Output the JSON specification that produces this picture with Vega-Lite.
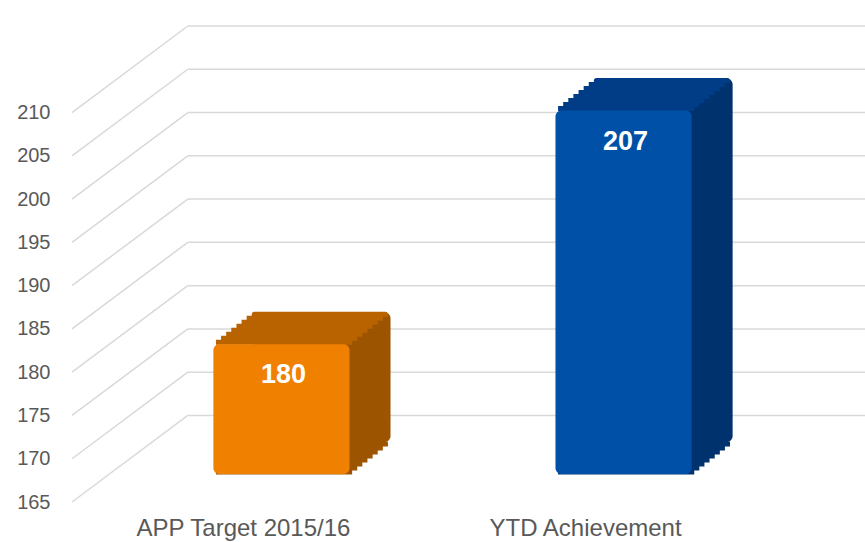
{
  "$schema": "https://vega.github.io/schema/vega-lite/v6.json",
  "width": 793,
  "height": 476,
  "autosize": {"type": "none"},
  "padding": {"left": 72, "top": 26, "right": 0, "bottom": 40},
  "background": "white",
  "config": {
    "view": {"stroke": null},
    "font": "Liberation Sans",
    "axis": {"labelFont": "Liberation Sans", "labelColor": "#595959"}
  },
  "datasets": {
    "bars": [
      {"cat": "APP Target 2015/16", "value": 180},
      {"cat": "YTD Achievement", "value": 207}
    ],
    "grid": [
      {"v": 165, "back": 175},
      {"v": 170, "back": 180},
      {"v": 175, "back": 185},
      {"v": 180, "back": 190},
      {"v": 185, "back": 195},
      {"v": 190, "back": 200},
      {"v": 195, "back": 205},
      {"v": 200, "back": 210},
      {"v": 205, "back": 215},
      {"v": 210, "back": 220}
    ]
  },
  "resolve": {"scale": {"x": "independent"}},
  "layer": [
    {
      "data": {"name": "grid"},
      "mark": {"type": "rule", "color": "#D9D9D9", "strokeWidth": 1.5},
      "encoding": {
        "x": {"datum": 0, "type": "quantitative", "scale": {"domain": [0, 1]}, "axis": null},
        "x2": {"datum": 0.146},
        "y": {"field": "v", "type": "quantitative", "scale": {"domain": [165, 220], "zero": false, "nice": false},
          "axis": {"values": [165, 170, 175, 180, 185, 190, 195, 200, 205, 210], "title": null, "domain": false, "ticks": false, "grid": false, "labelFontSize": 20, "labelPadding": 22}},
        "y2": {"field": "back"}
      }
    },
    {
      "data": {"name": "grid"},
      "mark": {"type": "rule", "color": "#D9D9D9", "strokeWidth": 1.5},
      "encoding": {
        "x": {"datum": 0.146, "type": "quantitative", "scale": {"domain": [0, 1]}, "axis": null},
        "x2": {"datum": 1},
        "y": {"field": "back", "type": "quantitative"}
      }
    },
    {
      "data": {"name": "bars"},
      "layer": [
        {
          "mark": {"type": "bar", "xOffset": 25, "yOffset": -60, "y2Offset": -60, "cornerRadius": 6},
          "encoding": {
            "y": {"field": "value", "type": "quantitative"},
            "y2": {"datum": 165},
            "color": {"condition": {"test": "datum.cat === 'APP Target 2015/16'", "value": "#9C5400"}, "value": "#00326E"}
          }
        },
        {"mark": {"type": "bar", "xOffset": -13.4, "yOffset": -32.5, "y2Offset": -27.5},
          "encoding": {"y": {"datum": 165}, "y2": {"datum": 165}, "color": {"condition": {"test": "datum.cat === 'APP Target 2015/16'", "value": "#9C5400"}, "value": "#00326E"}}},
        {"mark": {"type": "bar", "xOffset": -8.3, "yOffset": -36.5, "y2Offset": -31.5},
          "encoding": {"y": {"datum": 165}, "y2": {"datum": 165}, "color": {"condition": {"test": "datum.cat === 'APP Target 2015/16'", "value": "#9C5400"}, "value": "#00326E"}}},
        {"mark": {"type": "bar", "xOffset": -3.2, "yOffset": -40.5, "y2Offset": -35.5},
          "encoding": {"y": {"datum": 165}, "y2": {"datum": 165}, "color": {"condition": {"test": "datum.cat === 'APP Target 2015/16'", "value": "#9C5400"}, "value": "#00326E"}}},
        {"mark": {"type": "bar", "xOffset": 1.9, "yOffset": -44.5, "y2Offset": -39.5},
          "encoding": {"y": {"datum": 165}, "y2": {"datum": 165}, "color": {"condition": {"test": "datum.cat === 'APP Target 2015/16'", "value": "#9C5400"}, "value": "#00326E"}}},
        {"mark": {"type": "bar", "xOffset": 7.1, "yOffset": -48.5, "y2Offset": -43.5},
          "encoding": {"y": {"datum": 165}, "y2": {"datum": 165}, "color": {"condition": {"test": "datum.cat === 'APP Target 2015/16'", "value": "#9C5400"}, "value": "#00326E"}}},
        {"mark": {"type": "bar", "xOffset": 12.2, "yOffset": -52.5, "y2Offset": -47.5},
          "encoding": {"y": {"datum": 165}, "y2": {"datum": 165}, "color": {"condition": {"test": "datum.cat === 'APP Target 2015/16'", "value": "#9C5400"}, "value": "#00326E"}}},
        {"mark": {"type": "bar", "xOffset": 17.3, "yOffset": -56.5, "y2Offset": -51.5},
          "encoding": {"y": {"datum": 165}, "y2": {"datum": 165}, "color": {"condition": {"test": "datum.cat === 'APP Target 2015/16'", "value": "#9C5400"}, "value": "#00326E"}}},
        {"mark": {"type": "bar", "xOffset": 22.4, "yOffset": -60.5, "y2Offset": -55.5},
          "encoding": {"y": {"datum": 165}, "y2": {"datum": 165}, "color": {"condition": {"test": "datum.cat === 'APP Target 2015/16'", "value": "#9C5400"}, "value": "#00326E"}}},
        {"mark": {"type": "bar", "xOffset": -13.4, "yOffset": -32.5, "y2Offset": -27.5},
          "encoding": {"y": {"field": "value", "type": "quantitative"}, "y2": {"field": "value"}, "color": {"condition": {"test": "datum.cat === 'APP Target 2015/16'", "value": "#B96300"}, "value": "#003D86"}}},
        {"mark": {"type": "bar", "xOffset": -8.3, "yOffset": -36.5, "y2Offset": -31.5},
          "encoding": {"y": {"field": "value", "type": "quantitative"}, "y2": {"field": "value"}, "color": {"condition": {"test": "datum.cat === 'APP Target 2015/16'", "value": "#B96300"}, "value": "#003D86"}}},
        {"mark": {"type": "bar", "xOffset": -3.2, "yOffset": -40.5, "y2Offset": -35.5},
          "encoding": {"y": {"field": "value", "type": "quantitative"}, "y2": {"field": "value"}, "color": {"condition": {"test": "datum.cat === 'APP Target 2015/16'", "value": "#B96300"}, "value": "#003D86"}}},
        {"mark": {"type": "bar", "xOffset": 1.9, "yOffset": -44.5, "y2Offset": -39.5},
          "encoding": {"y": {"field": "value", "type": "quantitative"}, "y2": {"field": "value"}, "color": {"condition": {"test": "datum.cat === 'APP Target 2015/16'", "value": "#B96300"}, "value": "#003D86"}}},
        {"mark": {"type": "bar", "xOffset": 7.1, "yOffset": -48.5, "y2Offset": -43.5},
          "encoding": {"y": {"field": "value", "type": "quantitative"}, "y2": {"field": "value"}, "color": {"condition": {"test": "datum.cat === 'APP Target 2015/16'", "value": "#B96300"}, "value": "#003D86"}}},
        {"mark": {"type": "bar", "xOffset": 12.2, "yOffset": -52.5, "y2Offset": -47.5},
          "encoding": {"y": {"field": "value", "type": "quantitative"}, "y2": {"field": "value"}, "color": {"condition": {"test": "datum.cat === 'APP Target 2015/16'", "value": "#B96300"}, "value": "#003D86"}}},
        {"mark": {"type": "bar", "xOffset": 17.3, "yOffset": -56.5, "y2Offset": -51.5},
          "encoding": {"y": {"field": "value", "type": "quantitative"}, "y2": {"field": "value"}, "color": {"condition": {"test": "datum.cat === 'APP Target 2015/16'", "value": "#B96300"}, "value": "#003D86"}}},
        {"mark": {"type": "bar", "xOffset": 22.4, "yOffset": -60.5, "y2Offset": -55.5, "cornerRadiusTopLeft": 4, "cornerRadiusTopRight": 8},
          "encoding": {"y": {"field": "value", "type": "quantitative"}, "y2": {"field": "value"}, "color": {"condition": {"test": "datum.cat === 'APP Target 2015/16'", "value": "#B96300"}, "value": "#003D86"}}},
        {
          "mark": {"type": "bar", "xOffset": -16, "yOffset": -28, "y2Offset": -28, "cornerRadius": 6},
          "encoding": {
            "y": {"field": "value", "type": "quantitative"},
            "y2": {"datum": 165},
            "color": {"condition": {"test": "datum.cat === 'APP Target 2015/16'", "value": "#F08000"}, "value": "#0050A8"}
          }
        },
        {
          "mark": {"type": "text", "color": "white", "fontWeight": "bold", "fontSize": 27, "baseline": "middle", "dy": 3, "dx": -14, "font": "Liberation Sans"},
          "encoding": {
            "y": {"field": "value", "type": "quantitative"},
            "text": {"field": "value", "type": "quantitative"}
          }
        }
      ],
      "encoding": {
        "x": {"field": "cat", "type": "nominal", "sort": null,
          "scale": {"paddingInner": 0.602, "paddingOuter": 0.46},
          "axis": {"title": null, "domain": false, "ticks": false, "labelAngle": 0, "labelFontSize": 24, "labelPadding": 14, "labelOffset": -54, "labelLimit": 400}}
      }
    }
  ]
}
